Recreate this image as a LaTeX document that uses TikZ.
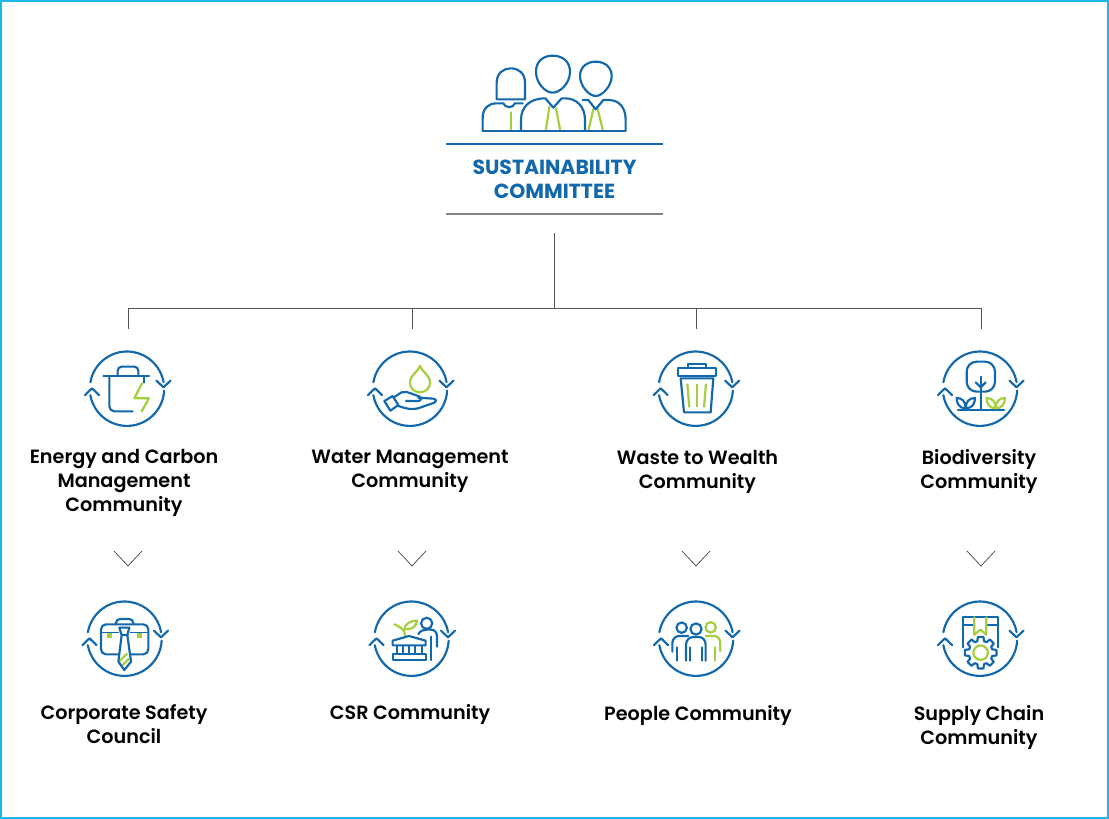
\documentclass[tikz,border=0pt]{standalone}
\usepackage{fontspec}
\setmainfont{Poppins}[BoldFont={Poppins SemiBold}]
\newfontfamily\ttlfont{Poppins Bold}
\definecolor{iconblue}{HTML}{1268AC}
\definecolor{leaf}{HTML}{A5CF3C}
\definecolor{edge}{HTML}{1FB6EC}
\definecolor{wire}{HTML}{555555}
\definecolor{softrule}{HTML}{858585}
\tikzset{
  bl/.style={draw=iconblue,line width=2.15pt,line join=round,line cap=round},
  gr/.style={draw=leaf,line width=2.2pt,line join=round,line cap=round},
  conn/.style={draw=wire,line width=0.9pt},
  chev/.style={draw=wire,line width=0.8pt},
  lab/.style={font=\fontsize{19.2}{24}\selectfont\bfseries,text=black,align=center,inner sep=0pt},
  ttl/.style={font=\fontsize{20.4}{24}\selectfont\ttlfont,text=iconblue,align=center,inner sep=0pt},
  crop/.style={x=0.33333pt,y=-0.33333pt}
}
\newcommand{\ringicon}[2]{%
  \draw[bl] (#1,#2) ++(170:37.2pt) arc[start angle=170,end angle=10,radius=37.2pt];
  \draw[bl] (#1,#2) ++(-3:37.2pt) arc[start angle=-3,end angle=-170,radius=37.2pt];
  \draw[bl] (#1-42,#2+6.3) -- (#1-35,#2-0.4) -- (#1-28,#2+6.3);
  \draw[bl] (#1+29.5,#2-8) -- (#1+36.5,#2-1.4) -- (#1+43.5,#2-8);
}
\newcommand{\downchev}[1]{\draw[chev] (#1-14,551) -- (#1,566) -- (#1+14,551);}
\begin{document}
\begin{tikzpicture}[x=1pt,y=-1pt]
\useasboundingbox (0,0) rectangle (1109,819);
\fill[white] (0,0) rectangle (1109,819);
\draw[edge,line width=2pt] (1,1) rectangle (1108,818);

% committee icon
\begin{scope}[shift={(440,40)},crop]
  \draw[gr] (212,217) -- (212,268);
  \draw[gr] (328,200) -- (318,268);
  \draw[gr] (348,205) -- (360,268);
  \draw[gr] (460,207) -- (446,268);
  \draw[gr] (473,207) -- (488,268);
  \draw[bl] (170,178) -- (170,128) .. controls (170,100) and (190,85) .. (212,85) .. controls (236,85) and (255,100) .. (255,128) -- (255,178) -- cycle;
  \draw[bl] (128,272) -- (128,235) .. controls (128,205) and (145,190) .. (170,190) -- (190,190) .. controls (195,205) and (220,205) .. (225,190) -- (248,190);
  \draw[bl] (338,47) .. controls (368,47) and (390,65) .. (390,95) .. controls (390,130) and (360,158) .. (338,158) .. controls (316,158) and (288,130) .. (288,95) .. controls (288,65) and (308,47) .. (338,47) -- cycle;
  \draw[bl] (243,272) -- (243,240) .. controls (243,200) and (270,175) .. (316,175) -- (340,203) -- (365,175) -- (375,175) .. controls (410,175) and (435,200) .. (435,240) -- (435,272);
  \draw[bl] (467,65) .. controls (495,65) and (515,82) .. (515,108) .. controls (515,138) and (487,168) .. (467,168) .. controls (447,168) and (420,138) .. (420,108) .. controls (420,82) and (440,65) .. (467,65) -- cycle;
  \draw[bl] (428,180) -- (445,180) -- (467,208) -- (490,180) -- (505,180) .. controls (540,180) and (557,205) .. (557,240) -- (557,272);
  \draw[bl] (128,272) -- (557,272);
\end{scope}
\coordinate (ruleL) at (446,143.5);
\coordinate (ruleR) at (663,143.5);
\draw[draw=iconblue,line width=2pt] (ruleL) -- (ruleR);
\node[ttl] (committee) at (554.5,179.5) {SUSTAINABILITY\\COMMITTEE};
\coordinate (lowL) at (446,214);
\coordinate (lowR) at (663,214);
\draw[draw=softrule,line width=1.4pt] (lowL) -- (lowR);

% connectors
\coordinate (stem) at (554.5,233);
\coordinate (hub) at (554.5,308.5);
\coordinate (d1t) at (128.5,308.5);
\coordinate (d2t) at (412.5,308.5);
\coordinate (d3t) at (696.5,308.5);
\coordinate (d4t) at (981,308.5);
\coordinate (d1b) at (128.5,329);
\coordinate (d2b) at (412.5,329);
\coordinate (d3b) at (696.5,329);
\coordinate (d4b) at (981,329);
\draw[conn] (stem) -- (hub);
\draw[conn] (d1b) -- (d1t) -- (d4t) -- (d4b);
\draw[conn] (d2t) -- (d2b);
\draw[conn] (d3t) -- (d3b);

% labels
\node[lab] (energy) at (124,483) {Energy and Carbon\\Management\\Community};
\node[lab] (water) at (410,471) {Water Management\\Community};
\node[lab] (waste) at (697.5,472) {Waste to Wealth\\Community};
\node[lab] (bio) at (979,471) {Biodiversity\\Community};
\node[lab] (safety) at (124,724) {Corporate Safety\\Council};
\node[lab] (csr) at (410,714.5) {CSR Community};
\node[lab] (people) at (698,715.5) {People Community};
\node[lab] (supply) at (979,727) {Supply Chain\\Community};

\downchev{128}\downchev{412}\downchev{696}\downchev{981}

% rings
\ringicon{127}{388.7}\ringicon{410}{388.7}\ringicon{695.7}{388.7}\ringicon{980}{388.7}
\ringicon{124.5}{638.7}\ringicon{411.5}{638.7}\ringicon{696}{638.7}\ringicon{980}{638.7}

% energy
\begin{scope}[shift={(70,340)},crop]
  \draw[bl] (100,108) -- (237,108);
  \draw[bl,rounded corners=4pt] (143,108) -- (143,80) -- (205,80) -- (205,108);
  \draw[bl,rounded corners=5pt] (118,108) -- (118,214) -- (188,214);
  \draw[bl] (222,108) -- (222,128);
  \draw[gr] (216,130) -- (193,175) -- (237,175) -- (215,214);
\end{scope}

% water
\begin{scope}[shift={(355,340)},crop]
  \draw[gr] (195,78) .. controls (188,97) and (165,105) .. (165,128) .. controls (165,145) and (178,157) .. (195,157) .. controls (212,157) and (225,145) .. (225,128) .. controls (225,105) and (202,97) .. (195,78) -- cycle;
  \draw[bl] (88,183) -- (113,168) -- (130,195) -- (106,212) -- cycle;
  \draw[bl] (116,172) -- (140,157) .. controls (150,153) and (160,157) .. (170,161) -- (192,169) .. controls (202,173) and (200,182) .. (190,183) -- (153,183);
  \draw[bl] (190,173) -- (235,176) .. controls (245,178) and (245,186) .. (238,188) -- (195,203) .. controls (170,212) and (150,205) .. (128,197);
\end{scope}

% waste
\begin{scope}[shift={(640,340)},crop]
  \draw[bl] (143,85) -- (143,72) -- (197,72) -- (197,85);
  \draw[bl] (113,85) rectangle (228,108);
  \draw[bl] (122,115) -- (220,115) -- (212,217) -- (132,217) -- cycle;
  \draw[gr,line cap=butt] (142,131) -- (148,202);
  \draw[gr,line cap=butt] (170,131) -- (170,202);
  \draw[gr,line cap=butt] (198,131) -- (192,202);
\end{scope}

% biodiversity
\begin{scope}[shift={(925,340)},crop]
  \draw[bl,rounded corners=10pt] (125,65) rectangle (210,155);
  \draw[bl] (167,110) -- (167,208);
  \draw[bl] (152,127) -- (167,142) -- (182,127);
  \draw[bl] (99,210) -- (237,210);
  \draw[bl] (122,205) .. controls (102,205) and (95,190) .. (95,174) .. controls (112,174) and (122,185) .. (122,205) .. controls (122,185) and (132,174) .. (150,174) .. controls (150,190) and (142,205) .. (122,205) -- cycle;
  \draw[gr] (212,205) .. controls (192,205) and (185,190) .. (185,174) .. controls (202,174) and (212,185) .. (212,205) .. controls (212,185) and (222,174) .. (240,174) .. controls (240,190) and (232,205) .. (212,205) -- cycle;
\end{scope}

% safety
\begin{scope}[shift={(70,590)},crop]
  \fill[leaf] (110,128) rectangle (125,143);
  \fill[leaf] (202,128) rectangle (217,143);
  \draw[bl,rounded corners=5pt] (145,193) -- (93,193) -- (93,103) -- (235,103) -- (235,193) -- (182,193);
  \draw[bl,rounded corners=4pt] (138,103) -- (138,87) -- (190,87) -- (190,103);
  \draw[draw=iconblue,line width=1.2pt] (95,127) -- (147,127);
  \draw[draw=iconblue,line width=1.2pt] (180,127) -- (233,127);
  \draw[gr,line cap=butt] (148,214) -- (172,190);
  \draw[gr,line cap=butt] (153,230) -- (177,206);
  \draw[bl] (148,113) -- (178,113) -- (172,135) -- (155,135) -- cycle;
  \draw[bl] (155,135) -- (145,215) -- (163,240) -- (183,215) -- (172,135);
\end{scope}

% csr
\begin{scope}[shift={(355,590)},crop]
  \draw[gr] (118,103) .. controls (130,108) and (142,115) .. (148,125) -- (150,138);
  \draw[gr] (148,118) .. controls (150,100) and (168,92) .. (186,92) .. controls (186,108) and (170,120) .. (148,118) -- cycle;
  \draw[bl] (113,166) -- (113,152) -- (162,138) -- (212,152) -- (212,166) -- cycle;
  \draw[bl] (113,192) rectangle (212,210);
  \foreach \cx in {125,143,161,181,200} \draw[bl,line cap=butt] (\cx,166) -- (\cx,192);
  \draw[bl] (215,100) circle[radius=5.6pt];
  \draw[bl] (190,132) .. controls (197,122) and (205,119) .. (215,119) -- (228,119) .. controls (240,119) and (246,128) .. (246,140) -- (246,170);
  \draw[bl] (229,140) -- (229,210);
\end{scope}

% people
\begin{scope}[shift={(640,590)},crop]
  \draw[bl] (125,113) circle[radius=5.2pt];
  \draw[gr] (212,112) circle[radius=5.2pt];
  \draw[bl] (168,117) circle[radius=5.6pt];
  \draw[gr] (197,138) -- (225,138) .. controls (235,140) and (241,148) .. (241,160) -- (241,183);
  \draw[gr] (226,172) -- (226,212);
  \draw[bl] (145,138) -- (115,138) .. controls (105,140) and (97,148) .. (97,160) -- (97,185);
  \draw[bl] (111,172) -- (111,212);
  \draw[bl] (138,212) -- (138,165) .. controls (138,150) and (148,141) .. (160,141) -- (176,141) .. controls (188,141) and (197,150) .. (197,165) -- (197,212);
  \draw[bl] (150,172) -- (150,212);
  \draw[bl] (185,172) -- (185,212);
\end{scope}

% supply chain
\begin{scope}[shift={(925,590)},crop]
  \draw[bl] (113,172) -- (113,80) -- (218,80) -- (218,172);
  \draw[bl] (113,105) -- (148,105);
  \draw[bl] (184,105) -- (218,105);
  \draw[gr] (148,82) -- (148,134) -- (166,119) -- (184,134) -- (184,82);
  \draw[bl,fill=white] ({167+36*cos(-16)},{188+36*sin(-16)})
    \foreach \a in {0,45,...,315}{
      -- ({167+36*cos(\a-16)},{188+36*sin(\a-16)})
      -- ({167+48*cos(\a-10)},{188+48*sin(\a-10)})
      -- ({167+48*cos(\a+10)},{188+48*sin(\a+10)})
      -- ({167+36*cos(\a+16)},{188+36*sin(\a+16)})
    } -- cycle;
  \draw[gr] (167,188) circle[radius=7.2pt];
\end{scope}
\end{tikzpicture}
\end{document}
